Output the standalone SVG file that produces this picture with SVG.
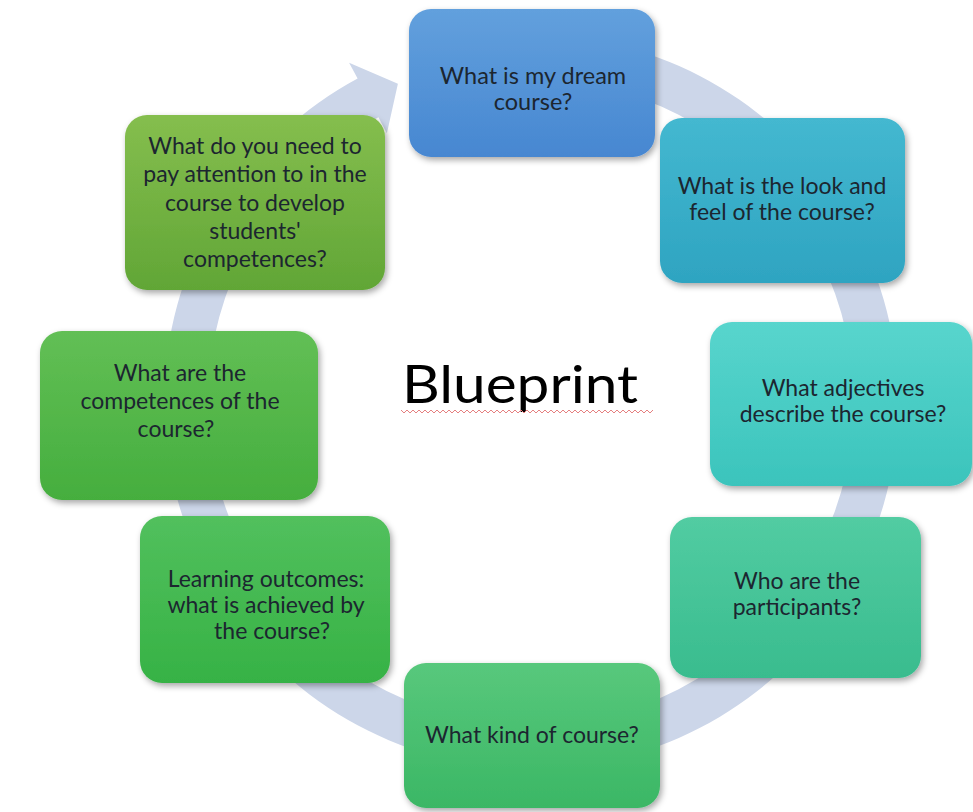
<svg xmlns="http://www.w3.org/2000/svg" width="973" height="812" viewBox="0 0 973 812">
  <style>
    .lbl { font-family: Lato, "Open Sans", "Liberation Sans", sans-serif; font-size: 23px; text-anchor: middle; fill: #1c2630; }
    .title { font-family: Lato, "Open Sans", "Liberation Sans", sans-serif; font-size: 52px; fill: #000; }
    .box { filter: url(#shadow); }
  </style>
  <defs>
    <filter id="shadow" x="-10%" y="-10%" width="125%" height="130%">
      <feDropShadow dx="2" dy="3" stdDeviation="3" flood-color="#000" flood-opacity="0.35"/>
    </filter>
    <linearGradient id="g1" x1="0" y1="0" x2="0" y2="1"><stop offset="0" stop-color="#62a0dd"/><stop offset="1" stop-color="#4787d1"/></linearGradient>
    <linearGradient id="g2" x1="0" y1="0" x2="0" y2="1"><stop offset="0" stop-color="#44b8d0"/><stop offset="1" stop-color="#2ea4c1"/></linearGradient>
    <linearGradient id="g3" x1="0" y1="0" x2="0" y2="1"><stop offset="0" stop-color="#58d5cd"/><stop offset="1" stop-color="#3bc4bc"/></linearGradient>
    <linearGradient id="g4" x1="0" y1="0" x2="0" y2="1"><stop offset="0" stop-color="#52cca2"/><stop offset="1" stop-color="#39bc8e"/></linearGradient>
    <linearGradient id="g5" x1="0" y1="0" x2="0" y2="1"><stop offset="0" stop-color="#58c87c"/><stop offset="1" stop-color="#3bb765"/></linearGradient>
    <linearGradient id="g6" x1="0" y1="0" x2="0" y2="1"><stop offset="0" stop-color="#52c05d"/><stop offset="1" stop-color="#36b245"/></linearGradient>
    <linearGradient id="g7" x1="0" y1="0" x2="0" y2="1"><stop offset="0" stop-color="#62bf55"/><stop offset="1" stop-color="#45ae3e"/></linearGradient>
    <linearGradient id="g8" x1="0" y1="0" x2="0" y2="1"><stop offset="0" stop-color="#85be4e"/><stop offset="1" stop-color="#61a636"/></linearGradient>
  </defs>

  <rect width="973" height="812" fill="#fff"/>

  <!-- circular arrow running clockwise behind the boxes -->
  <g id="connectors">
    <path d="M 454.7 43.0 A 367 367 0 1 1 357.6 78.6 L 349.1 62.7 L 397.9 83.7 L 386.9 133.2 L 378.4 117.3 A 323 323 0 1 0 463.8 86.1 Z" fill="#ccd6e9"/>
  </g>

  <g id="title">
    <text class="title" x="402" y="403" textLength="236" lengthAdjust="spacingAndGlyphs">Blueprint</text>
    <!-- spell-check squiggle -->
    <path d="M401 410 l3 3 l3 -3 l3 3 l3 -3 l3 3 l3 -3 l3 3 l3 -3 l3 3 l3 -3 l3 3 l3 -3 l3 3 l3 -3 l3 3 l3 -3 l3 3 l3 -3 l3 3 l3 -3 l3 3 l3 -3 l3 3 l3 -3 l3 3 l3 -3 l3 3 l3 -3 l3 3 l3 -3 l3 3 l3 -3 l3 3 l3 -3 l3 3 l3 -3 l3 3 l3 -3 l3 3 l3 -3 l3 3 l3 -3 l3 3 l3 -3 l3 3 l3 -3 l3 3 l3 -3 l3 3 l3 -3 l3 3 l3 -3 l3 3 l3 -3 l3 3 l3 -3 l3 3 l3 -3 l3 3 l3 -3 l3 3 l3 -3 l3 3 l3 -3 l3 3 l3 -3 l3 3 l3 -3 l3 3 l3 -3 l3 3 l3 -3 l3 3 l3 -3 l3 3 l3 -3 l3 3 l3 -3 l3 3 l3 -3 l3 3 l3 -3 l3 3 l3 -3" fill="none" stroke="#e58080" stroke-width="1"/>
  </g>

  <g id="n1">
    <rect class="box" x="409" y="9" width="246" height="148" rx="22" fill="url(#g1)"/>
    <text class="lbl" x="533" y="84" style="font-size:23.5px" fill="#14233d">What is my dream</text>
    <text class="lbl" x="533" y="110" style="font-size:23.5px" fill="#14233d">course?</text>
  </g>

  <g id="n2">
    <rect class="box" x="660" y="118" width="245" height="165" rx="22" fill="url(#g2)"/>
    <text class="lbl" x="782" y="194">What is the look and</text>
    <text class="lbl" x="782" y="220">feel of the course?</text>
  </g>

  <g id="n3">
    <rect class="box" x="710" y="322" width="262" height="164" rx="22" fill="url(#g3)"/>
    <text class="lbl" x="843" y="396">What adjectives</text>
    <text class="lbl" x="843" y="422">describe the course?</text>
  </g>

  <g id="n4">
    <rect class="box" x="670" y="517" width="251" height="161" rx="22" fill="url(#g4)"/>
    <text class="lbl" x="797" y="589">Who are the</text>
    <text class="lbl" x="797" y="615">participants?</text>
  </g>

  <g id="n5">
    <rect class="box" x="404" y="663" width="256" height="145" rx="22" fill="url(#g5)"/>
    <text class="lbl" x="532" y="743">What kind of course?</text>
  </g>

  <g id="n6">
    <rect class="box" x="140" y="516" width="250" height="167" rx="22" fill="url(#g6)"/>
    <text class="lbl" x="266" y="587">Learning outcomes:</text>
    <text class="lbl" x="266" y="613">what is achieved by</text>
    <text class="lbl" x="272" y="639">the course?</text>
  </g>

  <g id="n7">
    <rect class="box" x="40" y="331" width="278" height="169" rx="22" fill="url(#g7)"/>
    <text class="lbl" x="180" y="381">What are the</text>
    <text class="lbl" x="180" y="409">competences of the</text>
    <text class="lbl" x="176" y="437">course?</text>
  </g>

  <g id="n8">
    <rect class="box" x="125" y="115" width="260" height="175" rx="22" fill="url(#g8)"/>
    <text class="lbl" x="255" y="154">What do you need to</text>
    <text class="lbl" x="255" y="182">pay attention to in the</text>
    <text class="lbl" x="255" y="211">course to develop</text>
    <text class="lbl" x="255" y="239">students'</text>
    <text class="lbl" x="255" y="267">competences?</text>
  </g>
</svg>
